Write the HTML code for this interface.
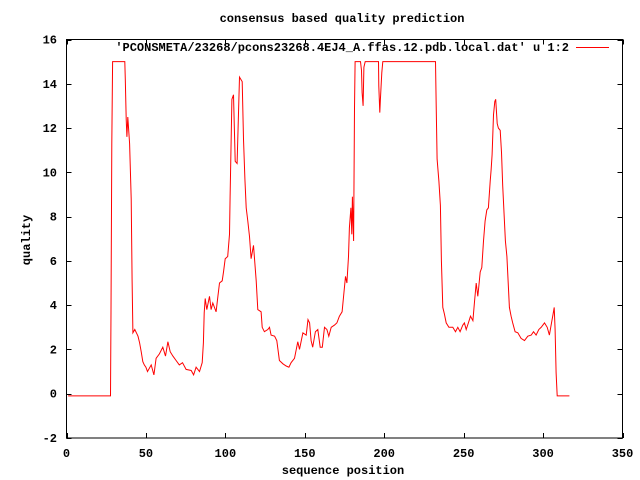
<!DOCTYPE html>
<html><head><meta charset="utf-8"><style>
body{margin:0;background:#fff}
svg{display:block}
text{font-family:"Liberation Mono",monospace;font-size:12px;font-weight:bold;fill:#000}
</style></head><body>
<svg id="chart" width="640" height="480">
<rect x="0" y="0" width="640" height="480" fill="#fff"/>
<text x="342" y="22" text-anchor="middle">consensus based quality prediction</text>
<text x="0" y="0" text-anchor="middle" transform="translate(30,240) rotate(-90)">quality</text>
<text x="343" y="474" text-anchor="middle">sequence position</text>
<g id="ticks"></g>
<rect x="66.5" y="39.5" width="556" height="398.5" fill="none" stroke="#000" stroke-width="1"/>
<g>
<text x="569" y="51" text-anchor="end">'PCONSMETA/23268/pcons23268.4EJ4_A.ffas.12.pdb.local.dat' u 1:2</text>
<line x1="576" y1="47.5" x2="609" y2="47.5" stroke="#f00" stroke-width="1"/>
</g>
<path id="series" fill="none" stroke="#f00" stroke-width="1"/>
</svg>
<script>
const xTicks=[0,50,100,150,200,250,300,350];
const yTicks=[-2,0,2,4,6,8,10,12,14,16];
const positions=[1,27.7,28,28.5,29,36.7,37,37.6,38,38.6,39.7,40.7,41.3,41.8,43,44,45,46,47,48,49,50,51,53.3,55,56.4,58.5,60.6,62.3,63.8,65.3,67,69,71,73,75.3,78.5,80,81.6,83.7,85.4,86.2,86.7,87.3,88.3,90,91,92.1,94.2,95.3,96.3,98,98.8,99.9,101.5,102.6,103,104.1,105.1,106.2,107.4,108.9,110.6,111.4,112.3,113.1,114.1,115.2,116.2,117.7,119.4,120.4,122.5,123.2,124.6,126.7,127.8,128.8,131,132.4,134,136.2,138.3,140,141.4,143.5,145.6,146.7,148.8,150.9,152,153,154,155,156.7,158.2,159.7,161,162.4,163.9,165.1,166.6,168.7,170.2,171.8,173.5,174.6,175.6,176.5,177.5,178.1,179,179.6,180,180.7,181.3,181.7,185.1,185.7,186.1,186.7,187.2,188,196.4,196.6,197.2,197.6,198.5,199.1,232.3,232.7,233.3,234.4,235.4,236,236.9,237.9,239,240.7,242.1,243.2,244.9,246.3,247.8,249.5,250.5,251.6,253,254.3,255.8,256.8,257.9,258.9,259.5,260.4,261.4,262.5,263.5,264.6,265.6,266.7,267.3,267.9,268.8,269.6,270.2,271.1,271.9,273,273.8,274.6,275.5,276.3,277.2,278,278.8,279.9,280.9,282.4,284.1,286.2,288.3,290.4,292.5,294,295.6,297.3,298.8,300.9,302.6,304,305.3,306.3,307,307.6,308.2,308.9,316.6];
const quality=[-0.1,-0.1,3.7,11.3,15,15,14.2,12.4,11.6,12.5,11.3,8.8,5.1,2.75,2.9,2.75,2.6,2.3,1.9,1.45,1.3,1.2,1.0,1.3,0.85,1.6,1.8,2.1,1.7,2.35,1.9,1.7,1.5,1.3,1.4,1.1,1.05,0.85,1.2,1.0,1.4,2.3,3.65,4.3,3.8,4.4,3.8,4.1,3.7,4.4,5.0,5.1,5.5,6.1,6.2,7.2,8.9,13.3,13.5,10.5,10.4,14.3,14.1,11.5,9.7,8.4,7.8,7.1,6.1,6.7,5.1,3.8,3.7,3.0,2.8,2.9,3.0,2.65,2.6,2.4,1.5,1.35,1.25,1.2,1.4,1.6,2.35,2.0,2.75,2.65,3.35,3.2,2.4,2.1,2.8,2.9,2.1,2.1,3.0,2.9,2.6,3.0,3.1,3.2,3.5,3.7,4.55,5.3,5.0,6.2,7.5,8.4,7.2,8.9,6.9,12.9,15,15,14.6,13.6,13.0,14.75,15,15,13.9,12.7,13.3,14.5,15,15,13.0,10.6,9.6,8.5,6.0,3.9,3.6,3.2,3.0,3.0,3.0,2.8,3.0,2.8,3.1,3.2,2.9,3.2,3.5,3.3,4.1,5.0,4.4,4.8,5.5,5.7,6.9,7.8,8.3,8.4,9.6,10.1,10.8,12.6,13.2,13.3,12.2,12.0,11.9,10.9,9.4,8.0,6.9,6.2,5.1,3.9,3.5,3.2,2.8,2.75,2.5,2.4,2.6,2.65,2.8,2.65,2.9,3.0,3.2,3.0,2.65,3.2,3.6,3.9,2.9,0.95,-0.1,-0.1];
const X0=66.5,X1=622.5,Y0=438,Y1=39.5;
function sx(v){return X0+(v-0)/(350-0)*(X1-X0);}
function sy(v){return Y0-(v+2)/(16+2)*(Y0-Y1);}
const NS="http://www.w3.org/2000/svg";
const tg=document.getElementById('ticks');
xTicks.forEach(v=>{
  const x=Math.round(sx(v))+0.5;
  [[Y0,Y0-5],[Y1,Y1+5]].forEach(p=>{
    const l=document.createElementNS(NS,'line');
    l.setAttribute('x1',x);l.setAttribute('x2',x);l.setAttribute('y1',p[0]);l.setAttribute('y2',p[1]);
    l.setAttribute('stroke','#000');
    
    
    tg.appendChild(l);
  });
  const t=document.createElementNS(NS,'text');
  t.setAttribute('x',sx(v));t.setAttribute('y',457);t.setAttribute('text-anchor','middle');
  t.textContent=v;
  
  
  tg.appendChild(t);
});
yTicks.forEach(v=>{
  const y=Math.round(sy(v))+0.5;
  [[X0,X0+5],[X1,X1-5]].forEach(p=>{
    const l=document.createElementNS(NS,'line');
    l.setAttribute('x1',p[0]);l.setAttribute('x2',p[1]);l.setAttribute('y1',y);l.setAttribute('y2',y);
    l.setAttribute('stroke','#000');
    
    
    tg.appendChild(l);
  });
  const t=document.createElementNS(NS,'text');
  t.setAttribute('x',57);t.setAttribute('y',sy(v)+4);t.setAttribute('text-anchor','end');
  t.textContent=v;
  
  
  tg.appendChild(t);
});
let d='';
positions.forEach((p,i)=>{d+=(i?'L':'M')+sx(p).toFixed(1)+','+sy(quality[i]).toFixed(1);});
document.getElementById('series').setAttribute('d',d);
</script>
</body></html>
